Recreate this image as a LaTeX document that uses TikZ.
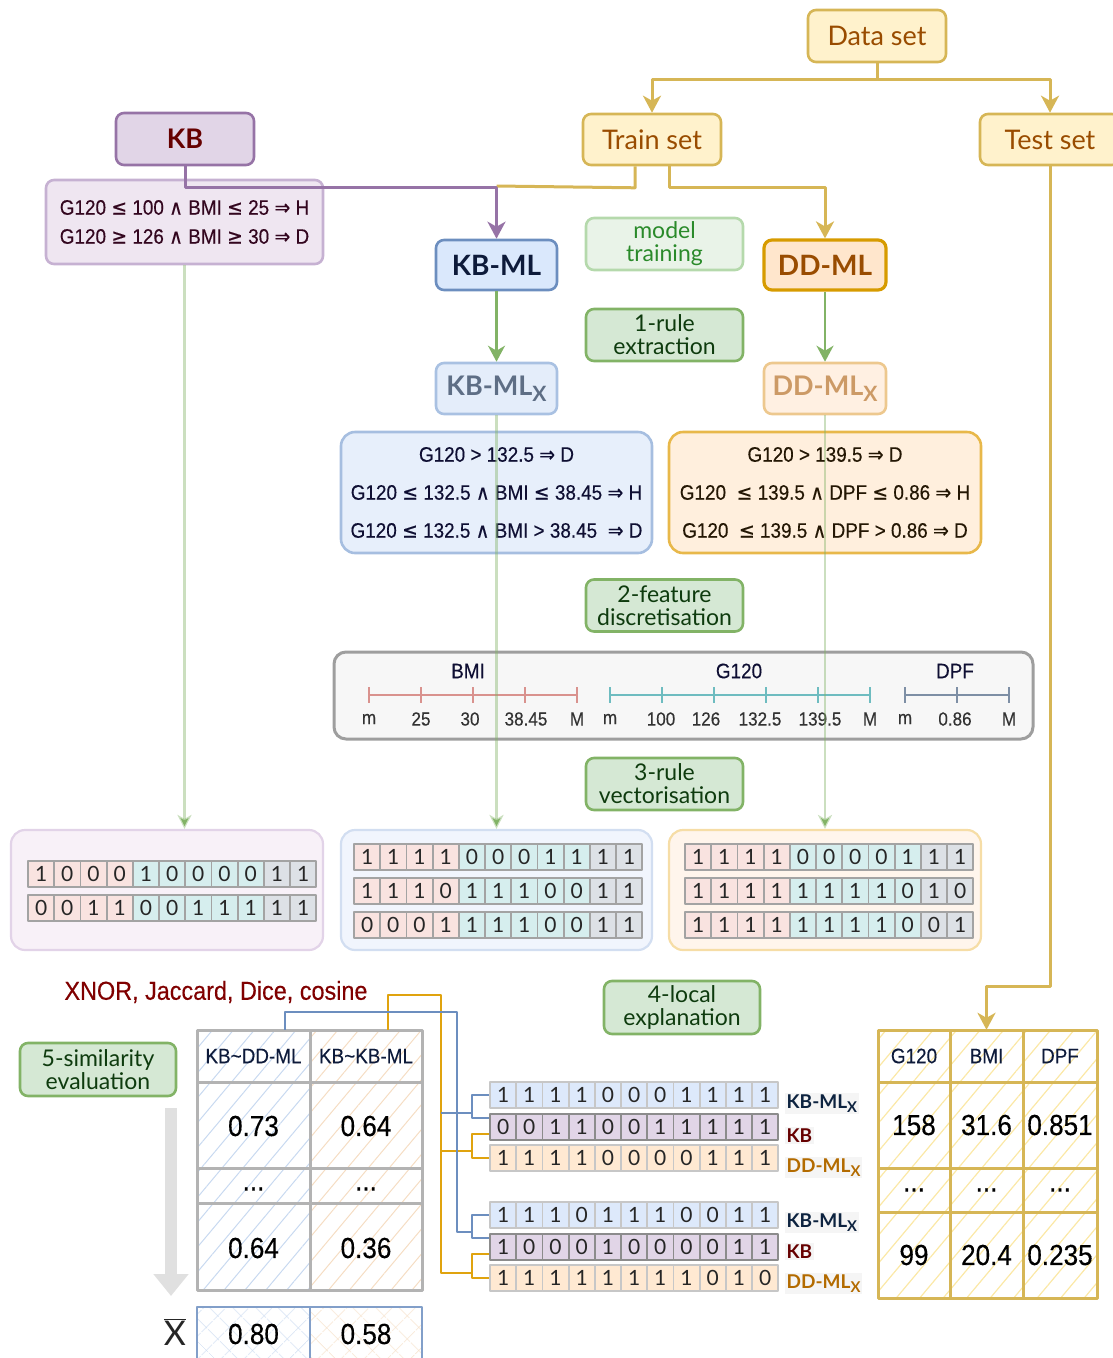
\documentclass[tikz,border=0pt]{standalone}
\usepackage{fontspec}
\setmainfont{Lato}
\newfontfamily\condf[FakeStretch=0.9,FakeBold=0.3]{Liberation Sans}
\newfontfamily\symf[FakeStretch=0.9,FakeBold=0.3]{DejaVu Sans}
\usetikzlibrary{arrows.meta,patterns.meta}
\newcommand\myle{{\symf ≤}}
\newcommand\myge{{\symf ≥}}
\newcommand\myimp{{\symf ⇒}}
\newcommand\myand{{\symf ∧}}
\newcommand\subX{\raisebox{-0.45ex}{\scalebox{0.78}{X}}}
\definecolor{yel}{HTML}{D6B656}
\definecolor{yelfill}{HTML}{FFF2CC}
\definecolor{txtbrown}{HTML}{994C00}
\definecolor{purp}{HTML}{9673A6}
\definecolor{purpfill}{HTML}{E1D5E7}
\definecolor{kbred}{HTML}{660000}
\definecolor{kbrfill}{HTML}{EFE6F1}
\definecolor{kbrdraw}{HTML}{C6B1D2}
\definecolor{kbrtext}{HTML}{33061F}
\definecolor{blu}{HTML}{6C8EBF}
\definecolor{blufill}{HTML}{DAE8FC}
\definecolor{navy}{HTML}{0D1A3A}
\definecolor{ddfill}{HTML}{FFE6CC}
\definecolor{dddraw}{HTML}{D79B00}
\definecolor{mtfill}{HTML}{E9F3E8}
\definecolor{mtdraw}{HTML}{B5D9AC}
\definecolor{mttext}{HTML}{2A8A2A}
\definecolor{stepfill}{HTML}{D5E8D4}
\definecolor{stepdraw}{HTML}{82B366}
\definecolor{steptext}{HTML}{0E3B0E}
\definecolor{kbmlxfill}{HTML}{E4EDFA}
\definecolor{kbmlxdraw}{HTML}{A9C1E2}
\definecolor{kbmlxtext}{HTML}{5E6E85}
\definecolor{ddmlxfill}{HTML}{FFF0E2}
\definecolor{ddmlxdraw}{HTML}{EDC88E}
\definecolor{ddmlxtext}{HTML}{CC9A66}
\definecolor{kbmlrfill}{HTML}{E7EFFB}
\definecolor{kbmlrdraw}{HTML}{A6BEE0}
\definecolor{kbmlrtext}{HTML}{0F0F33}
\definecolor{ddmlrfill}{HTML}{FFEFDD}
\definecolor{ddmlrdraw}{HTML}{E8B84A}
\definecolor{ddmlrtext}{HTML}{241704}
\definecolor{axisfill}{HTML}{F7F7F7}
\definecolor{axisdraw}{HTML}{9E9E9E}
\definecolor{bmicol}{HTML}{D9928E}
\definecolor{gcol}{HTML}{6EBCC0}
\definecolor{dpfcol}{HTML}{7E8FA5}
\definecolor{kbbitfill}{HTML}{F8F1F8}
\definecolor{kbbitdraw}{HTML}{E2D3E8}
\definecolor{kbmlbitfill}{HTML}{F1F5FD}
\definecolor{kbmlbitdraw}{HTML}{D2DEF1}
\definecolor{ddbitfill}{HTML}{FFF5EC}
\definecolor{ddbitdraw}{HTML}{F6DDA6}
\definecolor{cred}{HTML}{F9E3E0}
\definecolor{cteal}{HTML}{D6EEEE}
\definecolor{cgray}{HTML}{DDE1E6}
\definecolor{cellborder}{HTML}{A3A3A3}
\definecolor{bcbluefill}{HTML}{DDE9FB}
\definecolor{bcorfill}{HTML}{FFE9D2}
\definecolor{bryel}{HTML}{E0A30E}
\definecolor{tblgray}{HTML}{B3B3B3}
\definecolor{hatchblue}{HTML}{C8D9F0}
\definecolor{hatchor}{HTML}{F5DDC3}
\definecolor{hatchyel}{HTML}{FBE8A6}
\definecolor{xnorred}{HTML}{800000}
\definecolor{lblorange}{HTML}{B36B00}
\definecolor{lblnavy}{HTML}{0D2340}
\tikzset{
  box/.style={draw, rounded corners=8pt, line width=2.6pt, inner sep=0pt, align=center},
  yelbox/.style={box, draw=yel, fill=yelfill, text=txtbrown, font=\fontsize{27}{27}\selectfont},
  stepbox/.style={box, draw=stepdraw, fill=stepfill, text=steptext, minimum width=157pt, minimum height=52pt, font=\fontsize{23}{23}\selectfont},
  rulebox/.style={box, font=\condf\fontsize{21}{38}\selectfont},
  bitbox/.style={box, line width=2.2pt, rounded corners=14pt, minimum width=312pt, minimum height=120pt},
  bitcell/.style={draw=cellborder, line width=1.8pt, minimum width=26.2pt, minimum height=26pt, inner sep=0pt, font=\fontsize{21}{21}\selectfont, text=black!85},
  bcblue/.style={fill=bcbluefill, draw=black!22},
  bcpurp/.style={fill=purpfill, draw=black!45},
  bcor/.style={fill=bcorfill, draw=black!22},
  yline/.style={draw=yel, line width=3pt},
  arr/.style={-{Stealth[length=17pt,width=18pt,inset=5pt]}},
  garr/.style={draw=stepdraw, line width=2.6pt, -{Stealth[length=16pt,width=17pt,inset=5pt]}},
  lgline/.style={draw=stepdraw, draw opacity=0.42, line width=2.6pt, -{Stealth[length=14pt,width=14pt,inset=4pt]}},
  axlbl/.style={font=\condf\fontsize{19}{19}\selectfont, text=black!80},
  axttl/.style={font=\condf\fontsize{21}{21}\selectfont, text=kbmlrtext},
  tval/.style={font=\condf\fontsize{29}{29}\selectfont, text=black},
  thdr/.style={font=\condf\fontsize{21}{21}\selectfont, text=navy},
  blbl/.style={anchor=base west, fill=black!4, inner sep=1.5pt, font=\bfseries\fontsize{19}{19}\selectfont},
  bline/.style={draw=blu, line width=2.4pt},
  ybline/.style={draw=bryel, line width=2.4pt},
}
\newcommand\bitrow[4]{%
  \foreach \b [count=\i] in {#4}{%
    \ifnum\i<5 \def\cc{cred}\else\ifnum\i<10 \def\cc{cteal}\else\def\cc{cgray}\fi\fi
    \node[bitcell,fill=\cc] (#1-\i) at ({#2+(\i-0.5)*26.2},#3) {\b};
  }}
\newcommand\bitrowu[5]{%
  \foreach \b [count=\i] in {#5}{%
    \node[bitcell,#4] (#1-\i) at ({#2+(\i-0.5)*26.2},#3) {\b};
  }}
\begin{document}
\begin{tikzpicture}[x=1pt,y=-1pt,line join=round]
\useasboundingbox (0,0) rectangle (1113,1358);

% ---------- top boxes ----------
\node[yelbox, minimum width=138pt, minimum height=52pt] (data) at (877,36) {Data set};
\node[yelbox, minimum width=138pt, minimum height=51pt] (train) at (652,139.5) {Train set};
\node[yelbox, minimum width=140pt, minimum height=51pt] (test) at (1050,139.5) {Test set};
\node[box, draw=purp, fill=purpfill, text=kbred, font=\bfseries\fontsize{27}{27}\selectfont, minimum width=138pt, minimum height=52pt] (kb) at (185,139) {KB};
\node[box, draw=kbrdraw, fill=kbrfill, text=kbrtext, font=\condf\fontsize{21}{29}\selectfont, minimum width=277pt, minimum height=84pt] (kbr) at (184.5,222)
  {G120 \myle{} 100 \myand{} BMI \myle{} 25 \myimp{} H\\G120 \myge{} 126 \myand{} BMI \myge{} 30 \myimp{} D};
\node[box, draw=blu, fill=blufill, text=navy, font=\bfseries\fontsize{28}{28}\selectfont, minimum width=121pt, minimum height=50pt] (kbml) at (496.5,265) {KB-ML};
\node[box, draw=mtdraw, fill=mtfill, text=mttext, font=\fontsize{23}{23}\selectfont, minimum width=157pt, minimum height=52pt] (mt) at (664.5,244) {model\\training};
\node[box, draw=dddraw, fill=ddfill, text=txtbrown, line width=3.2pt, font=\bfseries\fontsize{28}{28}\selectfont, minimum width=122pt, minimum height=50pt] (ddml) at (825,265) {DD-ML};
\node[stepbox] (s1) at (664.5,335) {1-rule\\extraction};
\node[box, draw=kbmlxdraw, fill=kbmlxfill, text=kbmlxtext, font=\bfseries\fontsize{27}{27}\selectfont, minimum width=121pt, minimum height=51pt] (kbmlx) at (496.5,388.5) {KB-ML\subX};
\node[box, draw=ddmlxdraw, fill=ddmlxfill, text=ddmlxtext, font=\bfseries\fontsize{27}{27}\selectfont, minimum width=122pt, minimum height=51pt] (ddmlx) at (825,388.5) {DD-ML\subX};

% ---------- extracted rules ----------
\node[rulebox, draw=kbmlrdraw, fill=kbmlrfill, text=kbmlrtext, rounded corners=14pt, minimum width=311pt, minimum height=121pt] (kbmlr) at (496.5,492.5)
  {G120 > 132.5 \myimp{} D\\G120 \myle{} 132.5 \myand{} BMI \myle{} 38.45 \myimp{} H\\G120 \myle{} 132.5 \myand{} BMI > 38.45 \ \myimp{} D};
\node[rulebox, draw=ddmlrdraw, fill=ddmlrfill, text=ddmlrtext, rounded corners=14pt, minimum width=312pt, minimum height=121pt] (ddmlr) at (825,492.5)
  {G120 > 139.5 \myimp{} D\\G120 \ \myle{} 139.5 \myand{} DPF \myle{} 0.86 \myimp{} H\\G120 \ \myle{} 139.5 \myand{} DPF > 0.86 \myimp{} D};
\node[stepbox] (s2) at (664.5,605.5) {2-feature\\discretisation};

% ---------- discretisation axes ----------
\node[box, draw=axisdraw, fill=axisfill, line width=3pt, rounded corners=12pt, minimum width=699pt, minimum height=87pt] (axes) at (683.5,695.5) {};
\node[axttl] (tbmi) at (468,671) {BMI};
\node[axttl] (tg) at (739,671) {G120};
\node[axttl] (tdpf) at (955,671) {DPF};
\draw[bmicol, line width=2pt] (369,695) -- (577,695);
\foreach \t in {369,421,473,525,577} \draw[bmicol, line width=2pt] (\t,687) -- (\t,703);
\draw[gcol, line width=2pt] (610,695) -- (870,695);
\foreach \t in {610,662,714,766,818,870} \draw[gcol, line width=2pt] (\t,687) -- (\t,703);
\draw[dpfcol, line width=2pt] (905,695) -- (1009,695);
\foreach \t in {905,957,1009} \draw[dpfcol, line width=2pt] (\t,687) -- (\t,703);
\foreach \x/\l in {369/m,421/25,470/30,526/38.45,577/M,610/m,661/100,706/126,760/132.5,820/139.5,870/M,905/m,955/0.86,1009/M}
  \node[axlbl] at (\x,719) {\l};
\node[stepbox] (s3) at (664.5,784) {3-rule\\vectorisation};

% ---------- bit vectors ----------
\node[bitbox, draw=kbbitdraw, fill=kbbitfill] (kbbits) at (167,890) {};
\node[bitbox, draw=kbmlbitdraw, fill=kbmlbitfill, minimum width=311pt] (kbmlbits) at (496.5,890) {};
\node[bitbox, draw=ddbitdraw, fill=ddbitfill] (ddbits) at (825,890) {};
\bitrow{ka}{28}{874}{1,0,0,0,1,0,0,0,0,1,1}
\bitrow{kb}{28}{908}{0,0,1,1,0,0,1,1,1,1,1}
\bitrow{ma}{354}{857}{1,1,1,1,0,0,0,1,1,1,1}
\bitrow{mb}{354}{891}{1,1,1,0,1,1,1,0,0,1,1}
\bitrow{mc}{354}{925}{0,0,0,1,1,1,1,0,0,1,1}
\bitrow{da}{685}{857}{1,1,1,1,0,0,0,0,1,1,1}
\bitrow{db}{685}{891}{1,1,1,1,1,1,1,1,0,1,0}
\bitrow{dc}{685}{925}{1,1,1,1,1,1,1,1,0,0,1}

% ---------- connectors (top) ----------
\coordinate (kbjoin) at (496.5,186);
\draw[yline, arr] (data.south) -- ++(0,16) -| (train.north);
\draw[yline, arr] (data.south) -- ++(0,16) -| (test.north);
\draw[yline] ([xshift=-17pt]train.south) -- ++(0,21.5) -- (kbjoin);
\draw[yline, arr] ([xshift=17pt]train.south) -- ++(0,21.5) -| (ddml.north);
\draw[draw=purp, line width=3pt, arr] (kb.south) -- ++(0,21) -| (kbml.north);
\draw[garr] (kbml.south) -- (kbmlx.north);
\draw[garr] (ddml.south) -- (ddmlx.north);
\draw[lgline] (kbr.south) -- (kbr.south |- kbbits.north);
\draw[lgline] (kbmlx.south) -- (kbmlbits.north);
\draw[lgline] (ddmlx.south) -- (ddbits.north);

% ---------- similarity part ----------
\node[font=\condf\fontsize{26}{26}\selectfont, text=xnorred] (xnor) at (216,992) {XNOR, Jaccard, Dice, cosine};
\node[stepbox, minimum width=156pt, minimum height=53pt] (s5) at (98,1069.5) {5-similarity\\evaluation};
\node[stepbox, minimum width=156pt, minimum height=53pt] (s4) at (682,1007.5) {4-local\\explanation};

% left table
\fill[pattern={Lines[angle=50,distance=16pt,line width=1pt]}, pattern color=hatchblue] (197,1030) rectangle (310,1290);
\fill[pattern={Lines[angle=50,distance=16pt,line width=1pt]}, pattern color=hatchor] (310,1030) rectangle (422,1290);
\draw[tblgray, line width=3pt] (197,1030) rectangle (422,1290);
\draw[tblgray, line width=3pt] (310,1030) -- (310,1290) (197,1082) -- (422,1082) (197,1168) -- (422,1168) (197,1203) -- (422,1203);
\node[thdr, minimum height=52pt, inner sep=0pt] (ha) at (253.5,1056) {KB\textasciitilde DD-ML};
\node[thdr, minimum height=52pt, inner sep=0pt] (hb) at (366,1056) {KB\textasciitilde KB-ML};
\node[tval] (va1) at (253.5,1126) {0.73};
\node[tval] (vb1) at (366,1126) {0.64};
\node[tval] (dda) at (253.5,1189) {...};
\node[tval] (ddb) at (366,1189) {...};
\node[tval] (va2) at (253.5,1248) {0.64};
\node[tval] (vb2) at (366,1248) {0.36};
% mean row
\fill[pattern={Lines[angle=45,distance=17pt,line width=0.9pt]}, pattern color=hatchblue] (197,1307) rectangle (310,1370);
\fill[pattern={Lines[angle=-45,distance=17pt,line width=0.9pt]}, pattern color=hatchblue] (197,1307) rectangle (310,1370);
\fill[pattern={Lines[angle=45,distance=17pt,line width=0.9pt]}, pattern color=hatchor] (310,1307) rectangle (422,1370);
\fill[pattern={Lines[angle=-45,distance=17pt,line width=0.9pt]}, pattern color=hatchor] (310,1307) rectangle (422,1370);
\draw[draw=blu!85, line width=2.6pt] (197,1307) rectangle (422,1370) (310,1307) -- (310,1370);
\node[tval] (ma1) at (253.5,1334) {0.80};
\node[tval] (mb1) at (366,1334) {0.58};
\node[font=\fontsize{34}{34}\selectfont, text=black!85, inner sep=0pt] (xbar) at (175,1332) {$\overline{\mathrm{X}}$};
% gray arrow
\coordinate (ga1) at (171,1108);
\coordinate (ga2) at (171,1296);
\draw[draw=black!12, line width=12pt, -{Triangle[width=34pt,length=22pt]}] (ga1) -- (ga2);

% bottom vectors
\bitrowu{ga}{490}{1095}{bcblue}{1,1,1,1,0,0,0,1,1,1,1}
\bitrowu{gb}{490}{1127}{bcpurp}{0,0,1,1,0,0,1,1,1,1,1}
\bitrowu{gc}{490}{1158}{bcor}{1,1,1,1,0,0,0,0,1,1,1}
\bitrowu{ha}{490}{1215}{bcblue}{1,1,1,0,1,1,1,0,0,1,1}
\bitrowu{hb}{490}{1247}{bcpurp}{1,0,0,0,1,0,0,0,0,1,1}
\bitrowu{hc}{490}{1278}{bcor}{1,1,1,1,1,1,1,1,0,1,0}
\node[blbl, text=lblnavy] (la1) at (785,1108) {KB-ML\subX};
\node[blbl, text=kbred] (lb1) at (785,1142) {KB};
\node[blbl, text=lblorange] (lc1) at (785,1172) {DD-ML\subX};
\node[blbl, text=lblnavy] (la2) at (785,1227) {KB-ML\subX};
\node[blbl, text=kbred] (lb2) at (785,1258) {KB};
\node[blbl, text=lblorange] (lc2) at (785,1288) {DD-ML\subX};

% brackets
\draw[bline] (ga-1.west) -- ++(-17,0) |- ([yshift=9pt]gb-1.west);
\draw[ybline] ([yshift=-7pt]gb-1.west) -- ++(-17,0) |- (gc-1.west);
\draw[bline] (ha-1.west) -- ++(-17,0) |- ([yshift=9pt]hb-1.west);
\draw[ybline] ([yshift=-7pt]hb-1.west) -- ++(-17,0) |- (hc-1.west);
\coordinate (bb1) at (473,1113);
\coordinate (yb1) at (473,1151);
\coordinate (bb2) at (473,1232);
\coordinate (yb2) at (473,1273);
\coordinate (ytrunk) at (441,1113);
\coordinate (ytrunk2) at (441,1151);
% trunks
\draw[ybline] ([xshift=22pt]hb.north) -- ++(0,-35) -- ++(53,0) |- (yb2);
\draw[ybline] (ytrunk2) -- (yb1);
\draw[bline] ([xshift=31.5pt]ha.north) -- ++(0,-18) -- ++(172,0) |- (bb2);
\draw[bline] (ytrunk) -- (bb1);

% right table
\fill[pattern={Lines[angle=50,distance=18pt,line width=1.2pt]}, pattern color=hatchyel] (878,1030) rectangle (1097,1298);
\draw[yel, line width=3pt] (878,1030) rectangle (1097,1298);
\draw[yel, line width=3pt] (950,1030) -- (950,1298) (1023,1030) -- (1023,1298)
  (878,1082) -- (1097,1082) (878,1168) -- (1097,1168) (878,1212) -- (1097,1212);
\node[thdr, minimum height=52pt, inner sep=0pt] (rg) at (914,1056) {G120};
\node[thdr, minimum height=52pt, inner sep=0pt] (rb) at (986.5,1056) {BMI};
\node[thdr, minimum height=52pt, inner sep=0pt] (rd) at (1060,1056) {DPF};
\node[tval] at (914,1125) {158};
\node[tval] at (986.5,1125) {31.6};
\node[tval] at (1060,1125) {0.851};
\node[tval] at (914,1190) {...};
\node[tval] at (986.5,1190) {...};
\node[tval] at (1060,1190) {...};
\node[tval] at (914,1255) {99};
\node[tval] at (986.5,1255) {20.4};
\node[tval] at (1060,1255) {0.235};
\draw[yline, arr] (test.south) -- ++(0,820.5) -| (rb.north);
\end{tikzpicture}
\end{document}
